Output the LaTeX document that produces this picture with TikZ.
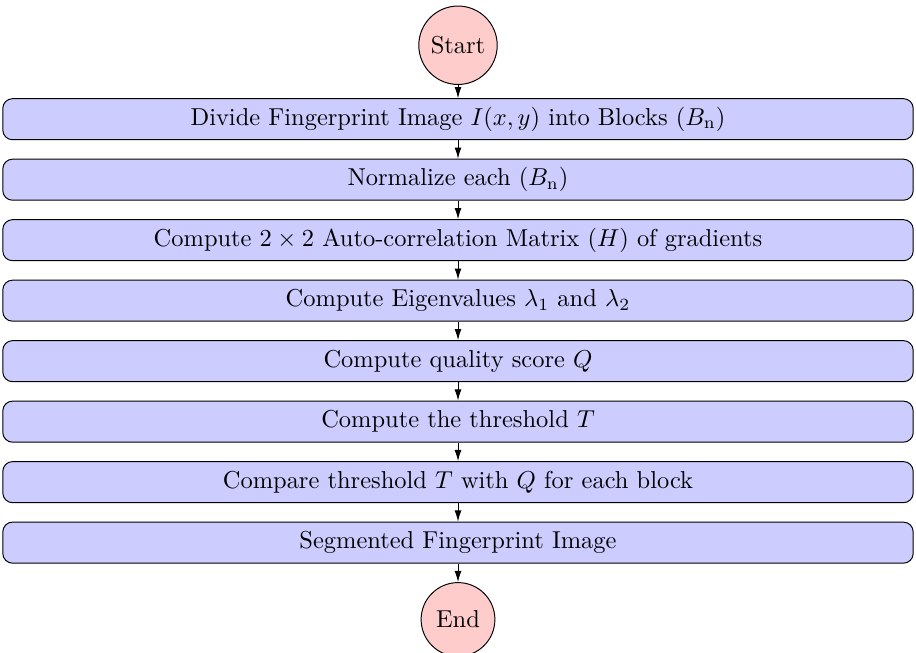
\documentclass[tikz,border=0pt]{standalone}
\usepackage{amsmath, amsfonts, amssymb}
\usepackage{tikz}
\usetikzlibrary{arrows.meta,positioning}

\tikzset{
    startstop/.style={circle, draw, fill=red!20, minimum size=1.06cm},
    process/.style={rectangle, rounded corners, draw, fill=blue!20,
        minimum width=13.08cm, minimum height=0.59cm},
    flow/.style={-{Latex[length=1.6mm,width=1mm]}}
}

\begin{document}
\begin{tikzpicture}[node distance=0.265cm]
    \useasboundingbox (0,0) rectangle (13.16,-9.37);
    \node[startstop] (start) at (6.58,-0.65) {Start};
    \node[process, below=0.19cm of start] (divide) {Divide Fingerprint Image $I(x,y)$ into Blocks $(B_{\text{n}})$};
    \node[process, below=of divide] (norm) {Normalize each $(B_{\text{n}})$};
    \node[process, below=of norm] (matrix) {Compute $2 \times 2$ Auto-correlation Matrix $(H)$ of gradients};
    \node[process, below=of matrix] (eigen) {Compute Eigenvalues $\lambda_1$ and $\lambda_2$};
    \node[process, below=of eigen] (quality) {Compute quality score $Q$};
    \node[process, below=of quality] (thresh) {Compute the threshold $T$};
    \node[process, below=of thresh] (compare) {Compare threshold $T$ with $Q$ for each block};
    \node[process, below=of compare] (segment) {Segmented Fingerprint Image};
    \node[startstop, below=of segment] (stop) {End};
    \draw[flow] (start) -- (divide);
    \draw[flow] (divide) -- (norm);
    \draw[flow] (norm) -- (matrix);
    \draw[flow] (matrix) -- (eigen);
    \draw[flow] (eigen) -- (quality);
    \draw[flow] (quality) -- (thresh);
    \draw[flow] (thresh) -- (compare);
    \draw[flow] (compare) -- (segment);
    \draw[flow] (segment) -- (stop);
\end{tikzpicture}
\end{document}
